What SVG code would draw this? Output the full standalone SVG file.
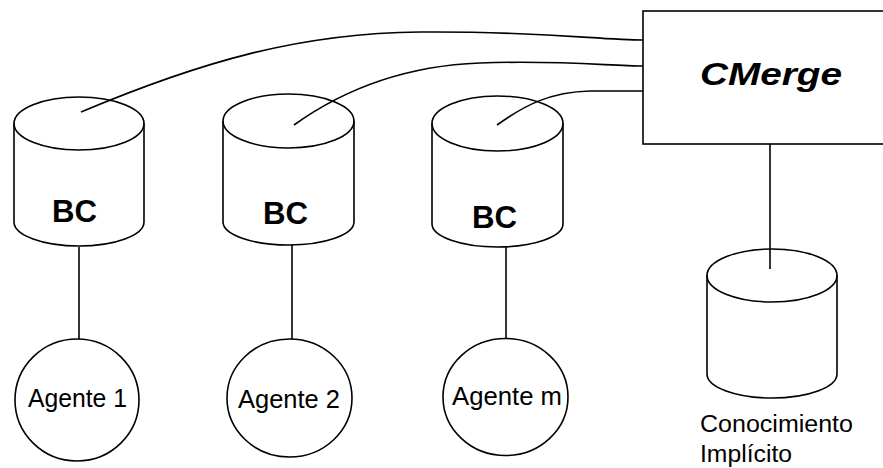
<svg xmlns="http://www.w3.org/2000/svg" width="883" height="468" viewBox="0 0 883 468">
<style>
.s{fill:none;stroke:#000;stroke-width:1.6}
.f{fill:#fff;stroke:#000;stroke-width:1.6}
.bc{font-family:"Liberation Sans",Arial,sans-serif;font-weight:bold;font-size:31px;fill:#000}
.ag{font-family:"Liberation Sans",Arial,sans-serif;font-size:25px;fill:#000}
.lb{font-family:"Liberation Sans",Arial,sans-serif;font-size:23px;fill:#000}
</style>
<rect width="883" height="468" fill="#fff"/>
<g id="bc1">
<path class="f" d="M14,123.5 A65,26.5 0 0 1 144,123.5 L144,222 A65,24 0 0 1 14,222 Z"/>
<path class="s" d="M14,123.5 A65,26.5 0 0 0 144,123.5"/>
<text class="bc" x="52" y="222" textLength="45" lengthAdjust="spacingAndGlyphs">BC</text>
</g>
<g id="bc2">
<path class="f" d="M223,121 A65.5,27 0 0 1 354,121 L354,222 A65.5,23 0 0 1 223,222 Z"/>
<path class="s" d="M223,121 A65.5,27 0 0 0 354,121"/>
<text class="bc" x="263" y="224" textLength="45" lengthAdjust="spacingAndGlyphs">BC</text>
</g>
<g id="bc3">
<path class="f" d="M432,123.5 A65.5,27.5 0 0 1 563,123.5 L563,224 A65.5,23 0 0 1 432,224 Z"/>
<path class="s" d="M432,123.5 A65.5,27.5 0 0 0 563,123.5"/>
<text class="bc" x="472" y="228" textLength="45" lengthAdjust="spacingAndGlyphs">BC</text>
</g>
<g id="cmerge">
<rect class="f" x="643" y="11" width="260" height="133"/>
<text x="700" y="85" font-family="Liberation Sans,Arial,sans-serif" font-weight="bold" font-style="italic" font-size="32" textLength="142" lengthAdjust="spacingAndGlyphs">CMerge</text>
</g>
<g id="implicito">
<path class="f" d="M707,275.5 A65,26.5 0 0 1 837,275.5 L837,374 A65,24 0 0 1 707,374 Z"/>
<path class="s" d="M707,275.5 A65,26.5 0 0 0 837,275.5"/>
<text class="lb" x="700" y="432" textLength="153" lengthAdjust="spacingAndGlyphs">Conocimiento</text>
<text class="lb" x="700" y="462" textLength="92" lengthAdjust="spacingAndGlyphs">Implícito</text>
</g>
<g id="agente1">
<ellipse class="f" cx="77" cy="400" rx="62" ry="61"/>
<text class="ag" x="28" y="407" textLength="99" lengthAdjust="spacingAndGlyphs">Agente 1</text>
</g>
<g id="agente2">
<ellipse class="f" cx="289.5" cy="398" rx="62.5" ry="59"/>
<text class="ag" x="238" y="408" textLength="102" lengthAdjust="spacingAndGlyphs">Agente 2</text>
</g>
<g id="agentem">
<ellipse class="f" cx="505.5" cy="397" rx="62.5" ry="58.5"/>
<text class="ag" x="452" y="405" textLength="110" lengthAdjust="spacingAndGlyphs">Agente m</text>
</g>
<g id="connectors">
<path class="s" d="M81,112 C200,62 300,33 420,32 S600,40 643,40"/>
<path class="s" d="M294,125 C340,92 400,66 480,63 S610,66 643,66"/>
<path class="s" d="M497,125 C525,105 550,92 590,91 L643,91"/>
<line class="s" x1="79" y1="247" x2="79" y2="339"/>
<line class="s" x1="292" y1="245" x2="292" y2="339"/>
<line class="s" x1="506" y1="247" x2="506" y2="338.5"/>
<line class="s" x1="770" y1="144" x2="770" y2="269"/>
</g>
</svg>
